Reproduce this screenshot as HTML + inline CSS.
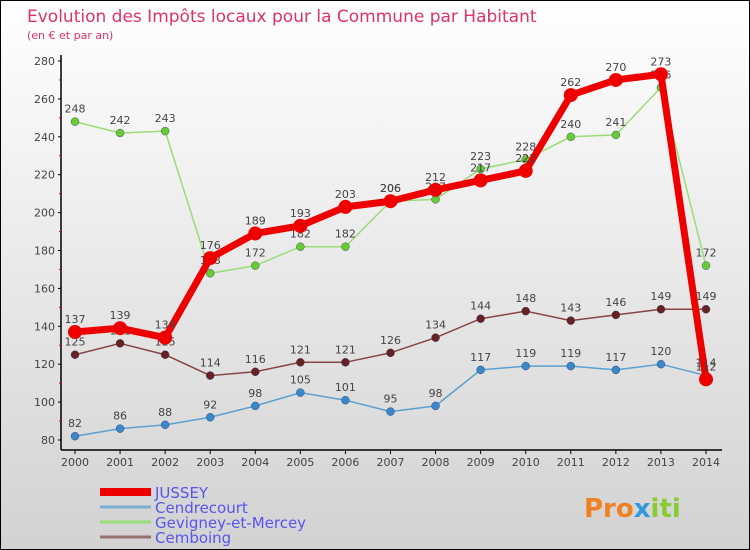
<!DOCTYPE html>
<html><head><meta charset="utf-8"><style>
body{margin:0}
svg{display:block;font-family:"DejaVu Sans","Liberation Sans",sans-serif}
</style></head><body>
<svg id="c" width="750" height="550">
<defs><linearGradient id="bg" x1="0" y1="0" x2="0" y2="1"><stop offset="0" stop-color="#ffffff"/><stop offset="1" stop-color="#d2d2d2"/></linearGradient></defs>
<rect x="0.5" y="0.5" width="749" height="549" fill="url(#bg)" stroke="#000"/>
<text x="27" y="22" font-size="17" fill="#e0306a">Evolution des Impôts locaux pour la Commune par Habitant</text>
<text x="27" y="39" font-size="11" fill="#e0306a">(en € et par an)</text>
<g id="axes"></g><g id="series"></g><g id="legend"></g>
<text x="584" y="517" font-size="26" font-weight="bold" fill="#f08020">Pro<tspan fill="#3399dd">x</tspan><tspan fill="#88cc33">iti</tspan></text>
</svg>
<script>
const years=[2000,2001,2002,2003,2004,2005,2006,2007,2008,2009,2010,2011,2012,2013,2014];
const yTicks=[80,100,120,140,160,180,200,220,240,260,280];
const seriesNames=["JUSSEY","Cendrecourt","Gevigney-et-Mercey","Cemboing"];
const jussey=[137,139,134,176,189,193,203,206,212,217,222,262,270,273,112];
const cendrecourt=[82,86,88,92,98,105,101,95,98,117,119,119,117,120,114];
const gevigney=[248,242,243,168,172,182,182,206,207,223,228,240,241,266,172];
const cemboing=[125,131,125,114,116,121,121,126,134,144,148,143,146,149,149];
const NS="http://www.w3.org/2000/svg";
const X0=75,X1=706,Y0=440,Y1=61;
const x=i=>X0+(X1-X0)*i/(years.length-1);
const y=v=>Y0-(v-80)*(Y0-Y1)/200;
function mk(tag,attrs,parent,txt){const e=document.createElementNS(NS,tag);for(const k in attrs)e.setAttribute(k,attrs[k]);if(txt!==undefined)e.textContent=txt;parent.appendChild(e);return e;}
const ax=document.getElementById('axes');
let e=mk('line',{x1:61,y1:55,x2:61,y2:450,stroke:'#000','stroke-width':1.5},ax);


e=mk('line',{x1:61,y1:450,x2:722,y2:450,stroke:'#000','stroke-width':1.5},ax);


yTicks.forEach((t,i)=>{
 mk('line',{x1:58,y1:y(t),x2:61,y2:y(t),stroke:'#000'},ax);
 if(i<yTicks.length-1)mk('line',{x1:59,y1:y(t+10),x2:61,y2:y(t+10),stroke:'#d00'},ax);
 e=mk('text',{x:55,y:y(t)+4,'text-anchor':'end','font-size':11,fill:'#444'},ax,t);
 
 
});
years.forEach((yr,i)=>{
 mk('line',{x1:x(i),y1:450,x2:x(i),y2:454,stroke:'#000'},ax);
 e=mk('text',{x:x(i),y:466,'text-anchor':'middle','font-size':11,fill:'#444'},ax,yr);
 
 
});
const sg=document.getElementById('series');
const defs=[[cendrecourt,'#5aa0d0','#3a88c8',1.5,4,'cendrecourt'],[gevigney,'#99dd77','#66cc33',1.5,4,'gevigney'],[cemboing,'#884444','#662222',1.5,4,'cemboing'],[jussey,'#ee0000','#ee0000',7,7,'jussey']];
defs.forEach(([d,lc,pc,w,r,n])=>{
 const g=mk('g',{},sg);
 
 
 e=mk('polyline',{points:d.map((v,i)=>x(i)+','+y(v)).join(' '),fill:'none',stroke:lc,'stroke-width':w},g);
 
 
 d.forEach((v,i)=>{
  e=mk('circle',{cx:x(i),cy:y(v),r:r,fill:pc,stroke:n==='jussey'?'none':'#336',"stroke-width":0.4},g);
  
  
  e=mk('text',{x:x(i),y:y(v)-9,'text-anchor':'middle','font-size':11,fill:'#444'},g,v);
  
  
 });
});
const lg=document.getElementById('legend');
const lcol=['#ee0000','#7aaed0','#99dd77','#997070'];
seriesNames.forEach((s,i)=>{
 const yy=492+i*15;
 e=mk('line',{x1:100,y1:yy,x2:151,y2:yy,stroke:lcol[i],'stroke-width':i===0?8:3},lg);
 
 
 e=mk('text',{x:155,y:yy+6,'font-size':15,fill:'#5555ee'},lg,s);
 
 
});
</script>
</body></html>
